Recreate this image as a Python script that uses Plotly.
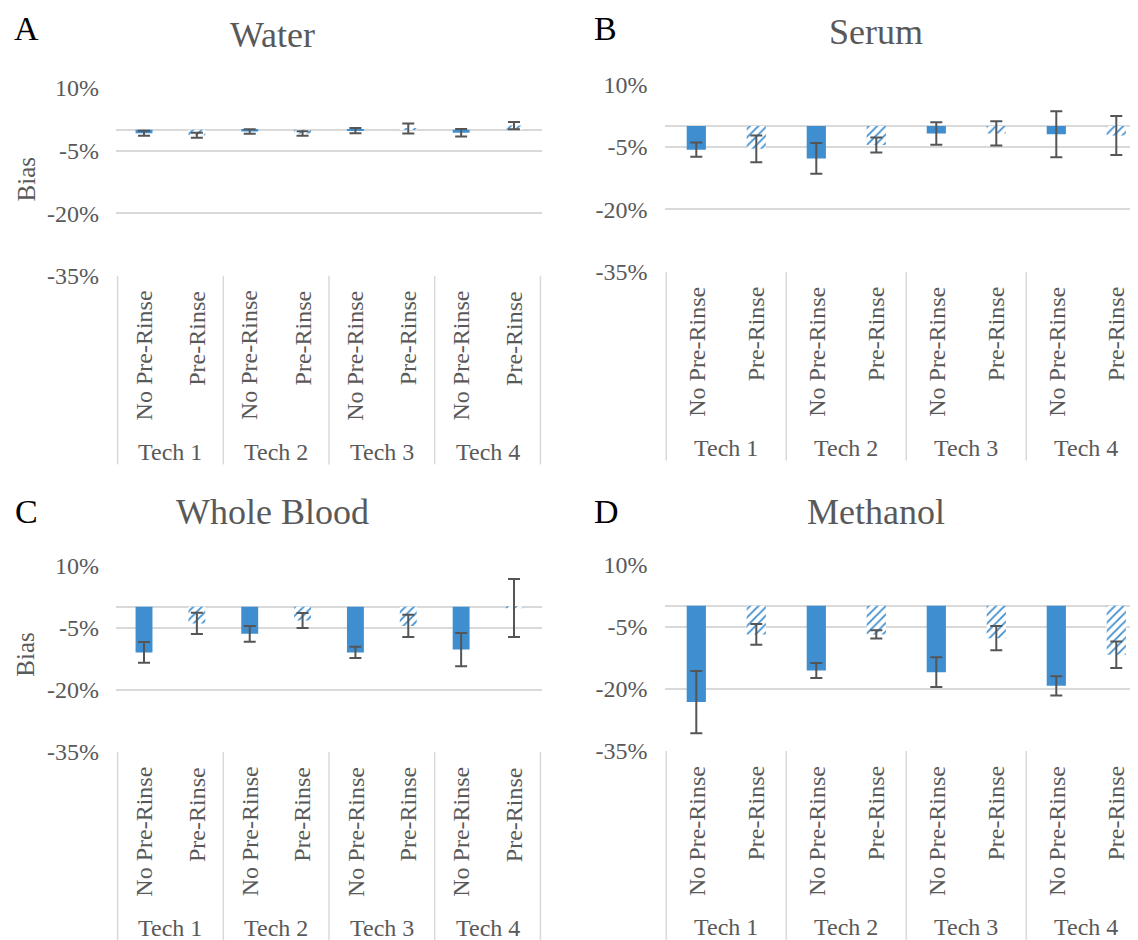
import plotly.graph_objects as go

# ---------------- data ----------------
techs = ["Tech 1", "Tech 2", "Tech 3", "Tech 4"]
conditions = ["No Pre-Rinse", "Pre-Rinse"]
panel_titles = ["Water", "Serum", "Whole Blood", "Methanol"]
panel_letters = ["A", "B", "C", "D"]

# bias (%) in order: T1 NoPre, T1 Pre, T2 NoPre, T2 Pre, ...
water_bias = [-0.8, -1.3, -0.4, -0.9, -0.2, 0.3, -0.7, 1.0]
water_err = [0.6, 0.6, 0.55, 0.55, 0.65, 1.2, 0.9, 0.85]
serum_bias = [-5.7, -5.5, -7.8, -4.6, -1.8, -1.8, -2.0, -2.3]
serum_err = [1.7, 3.2, 3.7, 1.8, 2.7, 2.9, 5.5, 4.7]
blood_bias = [-11.0, -4.0, -6.5, -3.3, -11.0, -4.6, -10.3, -0.3]
blood_err = [2.5, 2.55, 1.9, 1.8, 1.35, 2.7, 4.0, 7.0]
methanol_bias = [-23.2, -6.9, -15.6, -6.9, -16.0, -7.8, -19.3, -11.8]
methanol_err = [7.5, 2.5, 1.8, 1.0, 3.6, 2.9, 2.3, 3.2]

y_tickvals = [10, -5, -20, -35]
y_ticktext = ["10%", "-5%", "-20%", "-35%"]
y_range = [-35, 10]

series = [(water_bias, water_err), (serum_bias, serum_err),
          (blood_bias, blood_err), (methanol_bias, methanol_err)]

# ---------------- style / layout ----------------
W, H = 1138, 940
BLUE = "#3F8FD0"
GRID = "#D9D9D9"
TXT = "#595959"
ERR = "#555555"
FONT = "Liberation Serif, Times New Roman, serif"

# plot-area boxes in pixels: x0, x1, ytop, ybottom, x-range max
boxes = [
    (108, 534, 69, 262, 7.53),
    (656.5, 1138, 65, 258, 7.495),
    (108, 534, 559.8, 751.8, 7.53),
    (656.5, 1138, 558.7, 750.8, 7.495),
]
title_pos = [(264, 14.5), (868, 11), (264, 505), (868, 504.5)]
letter_pos = [(18, 8), (597, 8), (18, 504), (598, 504)]
bias_pos = [(18, 163), None, (18, 651.7), None]

def fx(p):
    return p / W

def fy(p):
    return 1 - p / H

fig = go.Figure()
shapes = []
annotations = []
layout_axes = {}

n_cond = len(conditions)
cats = [(t, c) for t in techs for c in conditions]
xpos = list(range(len(cats)))

for i, (vals, errs) in enumerate(series):
    x0, x1, yt, yb, xmax = boxes[i]
    xa = "x" if i == 0 else f"x{i+1}"
    ya = "y" if i == 0 else f"y{i+1}"
    xkey = "xaxis" if i == 0 else f"xaxis{i+1}"
    ykey = "yaxis" if i == 0 else f"yaxis{i+1}"

    shapes_pat = ["" if c == conditions[0] else "/" for (_, c) in cats]
    fig.add_trace(go.Bar(
        x=xpos, y=vals, width=0.32, xaxis=xa, yaxis=ya,
        marker=dict(color=BLUE, line=dict(width=0),
                    pattern=dict(shape=shapes_pat, fgcolor=BLUE, bgcolor="white",
                                 size=6, solidity=0.3, fillmode="replace")),
        error_y=dict(type="data", array=errs, visible=True, color=ERR,
                     thickness=2, width=6),
        showlegend=False, hoverinfo="skip",
    ))

    layout_axes[xkey] = dict(domain=[fx(x0), fx(x1)], range=[-0.53, xmax],
                             anchor=ya, showticklabels=False, showgrid=False,
                             zeroline=False, showline=False, ticks="",
                             fixedrange=True)
    layout_axes[ykey] = dict(domain=[fy(yb), fy(yt)], range=y_range, anchor=xa,
                             tickvals=y_tickvals, ticktext=y_ticktext,
                             showgrid=True, gridcolor=GRID, gridwidth=1.5,
                             zeroline=True, zerolinecolor=GRID, zerolinewidth=1.5,
                             showline=False, ticks="", ticklabelstandoff=16,
                             tickfont=dict(family=FONT, size=24, color=TXT),
                             fixedrange=True)

    # category box separators
    for g in range(len(techs) + 1):
        xb = g * n_cond - 0.5
        shapes.append(dict(type="line", xref=xa, yref="paper", x0=xb, x1=xb,
                           y0=fy(yb), y1=fy(yb + 194),
                           line=dict(color=GRID, width=1.5)))
    # inner rotated labels
    for k, (t, c) in enumerate(cats):
        annotations.append(dict(text=c, xref=xa, yref="paper", x=xpos[k],
                                y=fy(yb + 13), xanchor="center", yanchor="top",
                                textangle=-90, showarrow=False,
                                font=dict(family=FONT, size=24, color=TXT)))
    # tech labels
    for g, t in enumerate(techs):
        annotations.append(dict(text=t, xref=xa, yref="paper",
                                x=g * n_cond + (n_cond - 1) / 2,
                                y=fy(yb + 181), xanchor="center", yanchor="middle",
                                showarrow=False,
                                font=dict(family=FONT, size=24, color=TXT)))
    # titles and letters
    tx, ty = title_pos[i]
    annotations.append(dict(text=panel_titles[i], xref="paper", yref="paper",
                            x=fx(tx), y=fy(ty), xanchor="center", yanchor="middle",
                            showarrow=False,
                            font=dict(family=FONT, size=36, color=TXT)))
    lx, ly = letter_pos[i]
    annotations.append(dict(text=panel_letters[i], xref="paper", yref="paper",
                            x=fx(lx), y=fy(ly), xanchor="center", yanchor="middle",
                            showarrow=False,
                            font=dict(family=FONT, size=34, color="black")))
    if bias_pos[i] is not None:
        bx, by = bias_pos[i]
        annotations.append(dict(text="Bias", xref="paper", yref="paper",
                                x=fx(bx), y=fy(by), xanchor="center", yanchor="middle",
                                textangle=-90, showarrow=False,
                                font=dict(family=FONT, size=25, color=TXT)))

fig.update_layout(
    width=W, height=H, margin=dict(l=0, r=0, t=0, b=0),
    paper_bgcolor="white", plot_bgcolor="white",
    shapes=shapes, annotations=annotations, bargap=0.68,
    **layout_axes,
)

fig.write_html("out.html")
